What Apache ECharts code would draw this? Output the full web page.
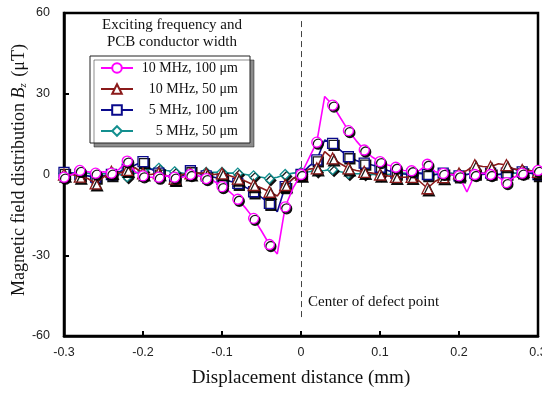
<!DOCTYPE html>
<html>
<head>
<meta charset="utf-8">
<script src="https://cdn.jsdelivr.net/npm/echarts@6/dist/echarts.min.js"></script>
<style>
  html, body { margin: 0; padding: 0; background: #fff; }
  #chart { width: 542px; height: 395px; }
</style>
</head>
<body>
<div id="chart"></div>
<script>
// displacement grid, -0.30 .. 0.30 mm in 0.01 steps (markers on every 0.02)
var xs = [];
for (var i = 0; i <= 60; i++) xs.push(+(-0.3 + i * 0.01).toFixed(2));

var seriesNames = ['10 MHz, 100 \u03bcm', '10 MHz, 50 \u03bcm', '5 MHz, 100 \u03bcm', '5 MHz, 50 \u03bcm'];

var f10w100 = [-1, 0, 1.5, 1, 0.5, 1, 0.5, 2, 5, 1,
  -0.5, -1, -1, -0.5, -1, -1, 0, -0.5, -1.5, -2.5,
  -4.5, -6.5, -9.2, -12.5, -16.3, -21, -26, -29.5, -12, -5,
  0, 6, 12, 29, 25.8, 21, 16.3, 12.5, 9.1, 6.5,
  4.8, 3.5, 2.7, 1.5, 1.4, 1.5, 3.8, 1, 0.4, 0,
  -0.5, -6.5, 0, 0.5, 0, -1, -3, -1, 0.5, 1, 1.5];

var f10w50 = [0, 0, -0.8, -1.5, -3.3, -1, 1, 0.5, 1.7, 2.5,
  0.4, 0, 0.5, -0.5, -1.5, 0, 0.4, 0.5, 0.4, 0,
  0.4, -0.5, -1.5, -2.5, -3.9, -5, -6.4, -8, -3.9, -1.5,
  0, 2, 2.3, 8.5, 6, 4, 2.3, 1.5, 1, 0.5,
  0, -0.5, -0.9, -1, -0.9, -2.5, -5.1, -2.5, -1, 0,
  0.4, 1.5, 3.5, 3, 2.9, 4, 3.5, 2, 1.7, 1.5, 1];

var f5w100 = [0.8, 0.5, 0, -0.5, -1, -0.5, 0, 1, 2, 3.5,
  4.8, 2, 0.5, -0.5, -1.8, -0.5, 1.4, 0.5, -0.5, -1,
  -1.8, -2.5, -3.3, -4.8, -6.4, -8.5, -10.7, -13.8, -4.5, -1.5,
  0, 3, 5.4, 12.8, 11.6, 9, 6.6, 5.2, 4.2, 3.5,
  2.7, 1.5, 0.5, 0.2, 0, 0.5, 0, 0, 0.5, 0,
  -0.5, 0, 0.5, 0, 0.5, 0, 0.5, 2, 1, 0.5, 0];

var f5w50 = [0.5, 0.5, 0.8, 0.5, 0, 0.3, 0.5, 0, -0.8, 0.5,
  1.5, 2, 2.3, 1.5, 1, 0.5, 0.3, 0.5, 0.8, 0.8,
  0.8, 0.5, 0.5, 0, -0.5, -1, -1.5, -1, 0, 0.5,
  0.8, 1, 1.4, 1.5, 1.9, 1, 0.4, 0.3, 0.3, 0,
  0, 0, 0.3, 0.5, 0.3, 0.5, 0.3, 0, 0, 0.5,
  0, 0, 0.5, 0.5, 0.5, 0, 0, 0.5, 0.5, 0.5, 0.5];

var colors = ['#ff00ff', '#8b1a1a', '#0a0a8c', '#138f8f'];
var symbols = ['circle', 'triangle', 'rect', 'diamond'];
var symbolSizes = [10, 11, 10, 10];
var allValues = [f10w100, f10w50, f5w100, f5w50];

var serif = '"Liberation Serif", "Times New Roman", serif';
var sans = '"Liberation Sans", Arial, sans-serif';

function buildData(ys) {
  return xs.map(function (x, i) {
    var item = { value: [x, ys[i]] };
    if (i % 2 === 1) item.symbol = 'none';
    return item;
  });
}

var series = allValues.map(function (ys, k) {
  var s = {
    name: seriesNames[k],
    type: 'line',
    data: buildData(ys),
    symbol: symbols[k],
    symbolSize: symbolSizes[k],
    showAllSymbol: true,
    clip: false,
    z: 10 - k,
    lineStyle: { color: colors[k], width: 1.6 },
    itemStyle: {
      color: '#fff',
      borderColor: colors[k],
      borderWidth: 1.3,
      shadowColor: 'rgba(0,0,0,0.9)',
      shadowOffsetX: 1.5,
      shadowOffsetY: 2,
      shadowBlur: 0
    }
  };
  if (k === 0) {
    s.markLine = {
      silent: true,
      symbol: 'none',
      label: { show: false },
      lineStyle: { color: '#444', type: [6, 4], width: 1 },
      data: [[{ coord: [0, 57] }, { coord: [0, -53] }]]
    };
  }
  return s;
});

var myChart = echarts.init(document.getElementById('chart'));

var option = {
  animation: false,
  grid: {
    left: 64, right: 4, top: 13, bottom: 59,
    outerBoundsMode: 'none',
    containLabel: false,
    show: true, borderColor: '#000', borderWidth: 2.5, backgroundColor: 'transparent'
  },
  legend: {
    orient: 'vertical',
    left: 90,
    top: 56,
    data: seriesNames,
    itemWidth: 32,
    itemHeight: 12,
    itemGap: 7,
    padding: [5, 12, 5, 10],
    backgroundColor: '#fff',
    borderColor: '#222',
    borderWidth: 1,
    shadowColor: 'rgba(0,0,0,0.45)',
    shadowOffsetX: 4,
    shadowOffsetY: 4,
    shadowBlur: 0,
    itemStyle: { shadowColor: 'transparent' },
    formatter: function (name) { return '{a|' + name + '}'; },
    textStyle: {
      rich: {
        a: { width: 100, align: 'right', fontFamily: serif, fontSize: 14, color: '#111', lineHeight: 14 }
      }
    }
  },
  xAxis: {
    type: 'value',
    min: -0.3,
    max: 0.3,
    interval: 0.1,
    name: 'Displacement distance (mm)',
    nameLocation: 'middle',
    nameGap: 33,
    nameTextStyle: { fontFamily: serif, fontSize: 19, color: '#111' },
    axisLine: { show: true, onZero: false, lineStyle: { color: '#000', width: 2.5 } },
    axisTick: { inside: true, length: 5, lineStyle: { color: '#000', width: 2 } },
    axisLabel: { fontFamily: sans, fontSize: 12.5, color: '#222', margin: 10 },
    splitLine: { show: false }
  },
  yAxis: {
    type: 'value',
    min: -60,
    max: 60,
    interval: 30,
    axisLine: { show: true, onZero: false, lineStyle: { color: '#000', width: 2.5 } },
    axisTick: { inside: true, length: 5, lineStyle: { color: '#000', width: 2 } },
    axisLabel: { fontFamily: sans, fontSize: 12.5, color: '#222', margin: 14 },
    splitLine: { show: false }
  },
  graphic: [
    {
      type: 'text',
      x: 19,
      y: 170,
      rotation: Math.PI / 2,
      style: {
        text: 'Magnetic field distribution {i|B}{s|z} (\u03bcT)',
        fontFamily: serif,
        fontSize: 18,
        fill: '#111',
        align: 'center',
        verticalAlign: 'middle',
        rich: {
          i: { fontFamily: serif, fontSize: 18, fontStyle: 'italic', fill: '#111' },
          s: { fontFamily: serif, fontSize: 11, fontStyle: 'italic', fill: '#111', padding: [9, 2, 0, 0] }
        }
      }
    },
    {
      type: 'text',
      x: 172,
      y: 17,
      style: {
        text: 'Exciting frequency and\nPCB conductor width',
        fontFamily: serif,
        fontSize: 15,
        lineHeight: 17,
        fill: '#111',
        align: 'center'
      }
    },
    {
      type: 'text',
      x: 308,
      y: 295,
      style: {
        text: 'Center of defect point',
        fontFamily: serif,
        fontSize: 15,
        fill: '#111'
      }
    }
  ],
  series: series
};

myChart.setOption(option);
</script>
</body>
</html>
